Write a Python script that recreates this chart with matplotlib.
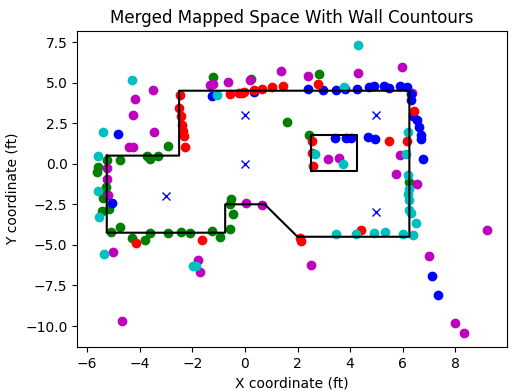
import matplotlib
matplotlib.use("Agg")
import matplotlib.pyplot as plt

# wall contours (ft)
wall_x = [-5.25, -2.5, -2.5, 6.25, 6.25, 2.0, 0.75, -0.75, -0.75, -5.25, -5.25]
wall_y = [0.5, 0.5, 4.5, 4.5, -4.5, -4.5, -2.5, -2.5, -4.25, -4.25, 0.5]
box_x = [2.5, 4.25, 4.25, 2.5, 2.5]
box_y = [-0.45, -0.45, 1.75, 1.75, -0.45]

# scan positions
pos_x = [0, 0, -3, 5, 5]
pos_y = [3, 0, -2, 3, -3]

# mapped points per scan
green_x = [-5.25, -5.57, -5.63, -4.74, -5.27, -5.4, -5.38, -5.15, -5.44, -4.74, -5.09, -4.29,
           -3.81, -3.6, -2.92, -2.43, -2.1, -1.24, -0.95, -0.58, -0.46, -0.55, -0.52,
           -1.22, 0.22, 2.8, 1.59, 2.44, -2.91, -3.72, -3.62, -3.32, 6.25]
green_y = [0.2, -0.19, -0.51, 0.22, -1.43, -1.84, -2.14, -2.81, -2.9, -3.88, -4.23, -4.6,
           -4.69, -4.24, -4.28, -4.2, -4.24, -4.12, -4.52, -4.02, -3.12, -2.49, -2.2,
           5.36, 5.2, 5.54, 2.6, 1.77, 1.12, 0.45, 0.3, 0.47, -1.12]

magenta_x = [-4.17, -3.51, -4.25, -3.44, -4.42, -4.25, -5.25, -5.25, -5.2, -5.0, -4.67,
             -1.78, -1.7, 0.06, 0.66, 2.5, -1.33, -1.22, -0.65, 0.2, 1.39, 2.4, 4.31,
             5.96, 6.36, 3.16, 3.58, 5.9, 5.73, 6.54, 9.21, 6.98, 8.0, 8.34]
magenta_y = [4.01, 4.54, 3.02, 1.98, 1.02, 1.02, -0.25, -0.92, -1.94, -5.44, -9.69,
             -5.96, -6.69, -2.39, -2.55, -6.26, 4.87, 4.89, 5.02, 5.14, 5.71, 5.4, 5.59,
             5.98, 4.38, 0.31, 0.34, 0.55, -0.66, -1.25, -4.1, -5.69, -9.79, -10.42]

blue_x = [-1.24, 0.35, 2.38, 2.95, 3.48, 3.81, 4.25, 4.7, 4.9, 5.28, 5.47, 5.91, 6.16,
          6.32, 6.32, 6.38, 6.55, 6.61, 6.7, 6.7, 6.76, 4.67, 4.96, 3.42, 3.85, 4.02,
          -4.84, -5.06, 7.1, 7.35]
blue_y = [4.2, 4.4, 4.59, 4.53, 4.53, 4.59, 4.59, 4.73, 4.77, 4.77, 4.69, 4.77, 4.73,
          4.28, 3.92, 2.95, 2.69, 2.24, 1.78, 1.55, 0.31, 1.67, 1.53, 1.57, 1.57, 1.57,
          1.83, -2.41, -6.89, -8.06]

red_x = [-0.57, -0.23, -0.1, -0.04, 0.34, 0.66, 1.02, 1.44, 2.76,
         -2.46, -2.49, -2.44, -2.39, -2.36, -2.31, -2.26,
         -4.14, -1.63, 2.1, 2.15, 4.41, 2.54, 2.54, 2.58, 6.44, 5.47, 6.15]
red_y = [4.32, 4.36, 4.38, 4.42, 4.53, 4.6, 4.73, 4.77, 4.92,
         4.22, 3.42, 2.94, 2.39, 2.04, 1.73, 1.02,
         -4.86, -4.68, -4.6, -4.75, -4.1, 1.42, 0.69, -0.15, 3.27, 1.43, 1.43]

cyan_x = [-4.29, -5.4, -5.6, -5.57, -5.53, -5.34, -1.97, -1.84, -1.05, 2.66, 3.71, 3.75,
          4.28, 6.19, 6.13, 6.19, 6.23, 6.19, 6.23, 6.25, 6.32, 6.51, 6.38, 6.0, 5.34,
          4.92, 4.22, 3.46]
cyan_y = [5.14, 1.93, 0.46, -1.69, -3.3, -5.59, -6.32, -6.32, 4.23, 0.61, 0.0, 4.74,
          7.3, 1.93, 0.63, -0.72, -1.53, -1.85, -2.24, -2.88, -3.02, -3.67, -4.37, -4.33, -4.21,
          -4.24, -4.3, -4.34]

fig, ax = plt.subplots(figsize=(5.29, 3.91), dpi=100)
plt.subplots_adjust(left=0.146, right=0.958, top=0.921, bottom=0.112)

ax.plot(green_x, green_y, 'go')
ax.plot(magenta_x, magenta_y, 'mo')
ax.plot(blue_x, blue_y, 'bo')
ax.plot(red_x, red_y, 'ro')
ax.plot(cyan_x, cyan_y, 'co')
ax.plot(wall_x, wall_y, 'k-')
ax.plot(box_x, box_y, 'k-')
ax.plot(pos_x, pos_y, 'bx')

ax.set_title("Merged Mapped Space With Wall Countours")
ax.set_xlabel("X coordinate (ft)")
ax.set_ylabel("Y coordinate (ft)")

fig.savefig("out.png")
